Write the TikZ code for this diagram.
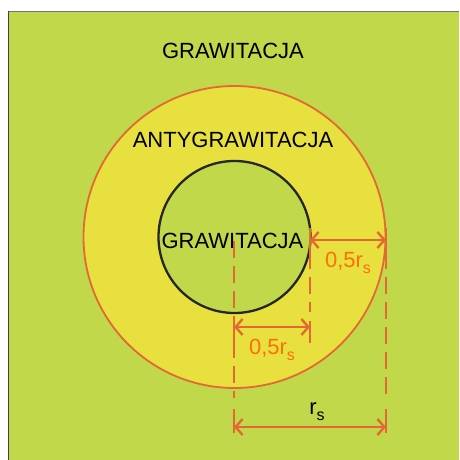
\documentclass[tikz,border=0pt]{standalone}
\usepackage{fontspec}
\setmainfont{Liberation Sans}
\usetikzlibrary{arrows.meta}
\definecolor{bggreen}{RGB}{192,216,74}
\definecolor{ringyellow}{RGB}{232,224,62}
\definecolor{lineorange}{RGB}{228,104,52}
\definecolor{textorange}{RGB}{255,110,10}
\newcommand{\subs}[1]{\raisebox{-0.28em}{\fontsize{16}{18}\selectfont #1}}
\tikzset{
  lbl/.style={font=\fontsize{22}{24}\selectfont, text=black, inner sep=0pt},
  dimlbl/.style={font=\fontsize{22}{24}\selectfont, text=textorange, inner sep=0pt},
  dashln/.style={draw=lineorange, line width=2.6pt, dash pattern=on 17pt off 8pt},
  tickln/.style={draw=lineorange, line width=2.6pt},
  dimarrow/.style={draw=lineorange, line width=2.6pt, {Straight Barb[length=7pt,width=16pt,line width=2.4pt]}-{Straight Barb[length=7pt,width=16pt,line width=2.4pt]}}
}
\begin{document}
\begin{tikzpicture}[x=1pt,y=-1pt]
\useasboundingbox (0,0) rectangle (459,460);
% background
\fill[bggreen] (8,11) rectangle (459,460);
\draw[gray!90!black, line width=1.4pt] (8,11.7) -- (459,11.7);
\draw[black!75, line width=1.4pt] (8.7,11) -- (8.7,460);
% circles
\coordinate (c) at (234.5,237);
\fill[ringyellow] (c) circle (151);
\draw[lineorange, line width=1.8pt] (c) circle (151);
\fill[bggreen] (c) circle (76);
\draw[black!85, line width=2.3pt] (c) circle (76);
% texts
\node[lbl] (top) at (233,51) {GRAWITACJA};
\node[lbl] (anti) at (233,140) {ANTYGRAWITACJA};
% key points
\coordinate (bt) at (310,240);
\coordinate (dt) at (386,240);
\coordinate (am) at (234,327);
\coordinate (bm) at (310,327);
\coordinate (ab) at (234,427);
\coordinate (db) at (386,427);
% dashed lines
\draw[dashln] (234,241) -- (234,398);
\draw[dashln] (310,252) -- (310,312);
\draw[dashln] (386,252) -- (386,398);
% end ticks
\draw[tickln] (234,317) -- (234,343);
\draw[tickln] (310,321) -- (310,343);
\draw[tickln] (310,228) -- (310,252);
\draw[tickln] (386,228) -- (386,252);
\draw[tickln] (234,409) -- (234,433);
\draw[tickln] (386,409) -- (386,433);
% inner label (over dashed line)
\node[lbl] (inner) at (232.5,240.5) {GRAWITACJA};
% dimension arrows
\draw[dimarrow] (bt) -- (dt);
\draw[dimarrow] (am) -- (bm);
\draw[dimarrow] (ab) -- (db);
% dimension labels
\node[dimlbl] (l1) at (348,263) {0,5r\subs{s}};
\node[dimlbl] (l2) at (272,350) {0,5r\subs{s}};
\node[lbl] (l3) at (317,412) {r\subs{s}};
\end{tikzpicture}
\end{document}
